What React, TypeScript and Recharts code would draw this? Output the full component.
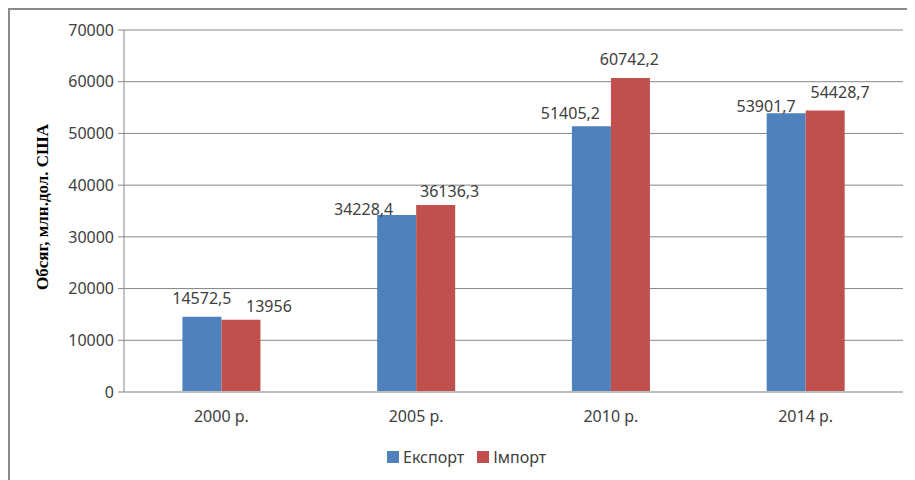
import React from 'react';
import { BarChart, Bar, XAxis, YAxis, CartesianGrid, Legend, LabelList, Label } from 'recharts';

// Зовнішньоторговельний оборот, млн дол. США
const categories = ['2000 р.', '2005 р.', '2010 р.', '2014 р.'];
const exportValues = [14572.5, 34228.4, 51405.2, 53901.7];
const importValues = [13956, 36136.3, 60742.2, 54428.7];
const yTicks = [0, 10000, 20000, 30000, 40000, 50000, 60000, 70000];

const seriesNames = { exp: 'Експорт', imp: 'Імпорт' };
const axisTitle = 'Обсяг, млн.дол. США';

// Nudges for the value labels (dx, dy of label centre from the bar top centre)
const exportLabelNudge: [number, number][] = [[0, -18], [-33, -6], [-21, -13], [-20, -7]];
const importLabelNudge: [number, number][] = [[28, -14], [14, -14], [-1, -19], [15, -18]];

const data = categories.map((c, i) => ({ name: c, exp: exportValues[i], imp: importValues[i] }));

const BLUE = '#4F81BD';
const RED = '#C0504D';
const TEXT = '#404040';
const GRID = '#868686';
const FONT = '"Noto Sans", sans-serif';

const fmt = (v: number) => String(v).replace('.', ',');

const makeLabel = (values: number[], nudge: [number, number][]) => (props: any) => {
  const { x, y, width, value } = props;
  let idx = typeof props.index === 'number' ? props.index : values.indexOf(Number(value));
  if (idx < 0) idx = 0;
  const [dx, dy] = nudge[idx];
  return (
    <text
      x={Number(x) + Number(width) / 2 + dx}
      y={Number(y) + dy}
      dy="0.36em"
      textAnchor="middle"
      fill={TEXT}
      fontFamily={FONT}
      fontSize={16}
    >
      {fmt(Number(value))}
    </text>
  );
};

const LegendContent = () => (
  <div style={{ display: 'flex', alignItems: 'center', fontFamily: FONT, fontSize: 16, color: TEXT, height: 24 }}>
    <span style={{ width: 12, height: 12, background: BLUE, display: 'inline-block', marginRight: 4 }} />
    <span style={{ marginRight: 13 }}>{seriesNames.exp}</span>
    <span style={{ width: 12, height: 12, background: RED, display: 'inline-block', marginRight: 4 }} />
    <span>{seriesNames.imp}</span>
  </div>
);

const AxisTitle = (props: any) => {
  const vb = props.viewBox || { x: 0, y: 0, width: 0, height: 0 };
  const cx = 32;
  const cy = vb.y + vb.height / 2 - 4;
  return (
    <text
      x={cx}
      y={cy}
      transform={`rotate(-90, ${cx}, ${cy})`}
      textAnchor="middle"
      dy="0.36em"
      fontFamily='"Liberation Serif", "Times New Roman", serif'
      fontWeight="bold"
      fontSize={17}
      fill="#000"
    >
      {axisTitle}
    </text>
  );
};

export default function App() {
  return (
    <div
      style={{
        width: 905,
        height: 470,
        borderTop: '2px solid #8a8a8a',
        borderLeft: '2px solid #8a8a8a',
        background: '#fff',
      }}
    >
      <BarChart
        width={905}
        height={470}
        data={data}
        margin={{ top: 20, right: 12, left: 0, bottom: 34 }}
        barCategoryGap="30%"
        barGap={0}
      >
        <CartesianGrid vertical={false} stroke={GRID} strokeWidth={1} />
        <XAxis
          dataKey="name"
          tickLine={false}
          tickSize={0}
          tickMargin={19}
          height={30}
          axisLine={{ stroke: '#bdbdbd', strokeWidth: 2 }}
          tick={{ fill: TEXT, fontFamily: FONT, fontSize: 16 }}
        />
        <YAxis
          width={114}
          domain={[0, 70000]}
          ticks={yTicks}
          interval={0}
          tickSize={6}
          tickMargin={4}
          tickLine={{ stroke: GRID }}
          axisLine={{ stroke: GRID }}
          tick={{ fill: TEXT, fontFamily: FONT, fontSize: 16 }}
        >
          <Label content={<AxisTitle />} />
        </YAxis>
        <Legend
          verticalAlign="bottom"
          height={24}
          content={<LegendContent />}
          wrapperStyle={{ left: 377, bottom: 11, width: 200 }}
        />
        <Bar dataKey="exp" name={seriesNames.exp} fill={BLUE} isAnimationActive={false}>
          <LabelList dataKey="exp" content={makeLabel(exportValues, exportLabelNudge)} />
        </Bar>
        <Bar dataKey="imp" name={seriesNames.imp} fill={RED} isAnimationActive={false}>
          <LabelList dataKey="imp" content={makeLabel(importValues, importLabelNudge)} />
        </Bar>
      </BarChart>
    </div>
  );
}
